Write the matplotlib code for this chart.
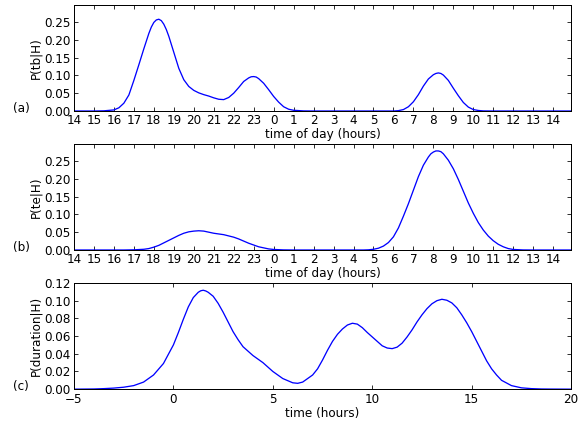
"""
Probability densities of start time, end time and duration.
"""

import matplotlib
matplotlib.use("Agg")
import matplotlib.pyplot as plt

# start time of day (hours on a continuous 14 -> 38.9 axis)
tb_hours = [14.0, 15.0, 15.5, 16.0, 16.25, 16.5, 16.75, 17.0, 17.25, 17.5, 17.75,
            17.875, 18.0, 18.125, 18.25, 18.375, 18.5, 18.625, 18.75, 19.0, 19.25,
            19.5, 19.75, 20.0, 20.25, 20.5, 20.75, 21.0, 21.25, 21.5, 21.75,
            22.0, 22.25, 22.5, 22.75, 22.875, 23.0, 23.125, 23.25, 23.5, 23.75,
            24.0, 24.25, 24.5, 24.75, 25.0, 25.5, 26.0, 30.0, 30.25, 30.5,
            30.75, 31.0, 31.25, 31.5, 31.75, 32.0, 32.125, 32.25, 32.375, 32.5,
            32.75, 33.0, 33.25, 33.5, 33.75, 34.0, 34.25, 34.5, 35.0, 38.9]
tb_density = [0.0, 0.0, 0.0005, 0.003, 0.009, 0.022, 0.045, 0.086, 0.13, 0.175, 0.218,
              0.236, 0.249, 0.256, 0.258, 0.254, 0.244, 0.229, 0.21, 0.165, 0.12,
              0.088, 0.069, 0.058, 0.051, 0.046, 0.042, 0.037, 0.033, 0.032, 0.038,
              0.05, 0.066, 0.083, 0.093, 0.0962, 0.0968, 0.0955, 0.091, 0.078, 0.06,
              0.041, 0.025, 0.012, 0.005, 0.002, 0.0003, 0.0, 0.0, 0.001, 0.004,
              0.012, 0.026, 0.046, 0.07, 0.09, 0.102, 0.1055, 0.107, 0.1055, 0.101,
              0.086, 0.064, 0.043, 0.024, 0.011, 0.004, 0.0015, 0.0003, 0.0, 0.0]

# end time of day
te_hours = [14.0, 16.5, 17.0, 17.5, 17.75, 18.0, 18.25, 18.5, 18.75, 19.0, 19.25,
            19.5, 19.75, 20.0, 20.25, 20.5, 20.75, 21.0, 21.5, 22.0, 22.25,
            22.5, 22.75, 23.0, 23.25, 23.5, 23.75, 24.0, 24.5, 25.0, 28.5,
            28.75, 29.0, 29.25, 29.5, 29.75, 30.0, 30.25, 30.5, 30.75, 31.0,
            31.25, 31.5, 31.75, 31.875, 32.0, 32.125, 32.25, 32.375, 32.5, 32.75,
            33.0, 33.25, 33.5, 33.75, 34.0, 34.25, 34.5, 34.75, 35.0, 35.25,
            35.5, 35.75, 36.0, 36.5, 37.0, 38.9]
te_density = [0.0, 0.0, 0.0005, 0.002, 0.004, 0.008, 0.013, 0.02, 0.027, 0.034, 0.041,
              0.047, 0.051, 0.053, 0.054, 0.053, 0.05, 0.047, 0.043, 0.036, 0.031,
              0.025, 0.019, 0.014, 0.009, 0.006, 0.003, 0.0015, 0.0003, 0.0, 0.0,
              0.0005, 0.002, 0.005, 0.011, 0.021, 0.037, 0.062, 0.095, 0.13, 0.168,
              0.206, 0.238, 0.261, 0.27, 0.275, 0.278, 0.278, 0.276, 0.27, 0.252,
              0.228, 0.198, 0.165, 0.132, 0.103, 0.077, 0.056, 0.039, 0.026, 0.016,
              0.009, 0.004, 0.0015, 0.0002, 0.0, 0.0]

# duration (hours)
dur_hours = [-5.0, -4.0, -3.5, -3.0, -2.5, -2.0, -1.5, -1.0, -0.5, 0.0, 0.25,
             0.5, 0.75, 1.0, 1.25, 1.375, 1.5, 1.625, 1.75, 2.0, 2.25,
             2.5, 2.75, 3.0, 3.25, 3.5, 4.0, 4.5, 5.0, 5.5, 6.0,
             6.25, 6.5, 7.0, 7.25, 7.5, 7.75, 8.0, 8.25, 8.5, 8.75,
             9.0, 9.25, 9.5, 9.75, 10.0, 10.25, 10.5, 10.75, 11.0, 11.25,
             11.5, 11.75, 12.0, 12.25, 12.5, 12.75, 13.0, 13.25, 13.5, 13.75,
             14.0, 14.25, 14.5, 14.75, 15.0, 15.25, 15.5, 15.75, 16.0, 16.25,
             16.5, 17.0, 17.5, 18.0, 18.5, 19.0, 20.0]
dur_density = [0.0, 0.0002, 0.0006, 0.0012, 0.0022, 0.004, 0.008, 0.016, 0.029, 0.05, 0.064,
               0.079, 0.093, 0.1035, 0.1095, 0.1112, 0.1118, 0.111, 0.1095, 0.105, 0.097,
               0.087, 0.076, 0.065, 0.056, 0.048, 0.038, 0.03, 0.02, 0.012, 0.0072,
               0.0066, 0.008, 0.016, 0.023, 0.033, 0.044, 0.054, 0.062, 0.068, 0.0725,
               0.0745, 0.0735, 0.0695, 0.064, 0.059, 0.054, 0.049, 0.0465, 0.0458, 0.0475,
               0.052, 0.059, 0.067, 0.076, 0.084, 0.091, 0.0965, 0.1, 0.1016, 0.1005,
               0.0975, 0.092, 0.084, 0.075, 0.065, 0.054, 0.043, 0.032, 0.023, 0.016,
               0.01, 0.004, 0.0015, 0.0006, 0.0002, 0.0001, 0.0]

day_ticks = list(range(14, 39))
day_labels = [str(h % 24) for h in day_ticks]
prob_ticks = [0.0, 0.05, 0.10, 0.15, 0.20, 0.25]
dur_xticks = [-5, 0, 5, 10, 15, 20]
dur_yticks = [0.0, 0.02, 0.04, 0.06, 0.08, 0.10, 0.12]

plt.rcParams.update({
    "font.family": "DejaVu Sans",
    "font.size": 12,
    "xtick.direction": "in",
    "ytick.direction": "in",
    "xtick.top": True,
    "ytick.right": True,
    "xtick.major.size": 4,
    "ytick.major.size": 4,
    "axes.linewidth": 1.0,
})

fig = plt.figure(figsize=(587 / 72, 423 / 72), dpi=72, facecolor="white")

left, width = 0.126, 0.847
ax_a = fig.add_axes([left, 0.7376, width, 0.2506])
ax_b = fig.add_axes([left, 0.409, width, 0.251])
ax_c = fig.add_axes([left, 0.080, width, 0.251])

for ax, x, y, ylabel in [(ax_a, tb_hours, tb_density, "P(tb|H)"),
                         (ax_b, te_hours, te_density, "P(te|H)")]:
    ax.plot(x, y, color="blue", linewidth=1.3)
    ax.set_xlim(14, 38.9)
    ax.set_ylim(0, 0.298)
    ax.set_xticks(day_ticks)
    ax.set_xticklabels(day_labels)
    ax.set_yticks(prob_ticks)
    ax.set_yticklabels([f"{v:.2f}" for v in prob_ticks])
    ax.set_xlabel("time of day (hours)", labelpad=1)
    ax.set_ylabel(ylabel, labelpad=2)

ax_c.plot(dur_hours, dur_density, color="blue", linewidth=1.3)
ax_c.set_xlim(-5, 20)
ax_c.set_ylim(0, 0.12)
ax_c.set_xticks(dur_xticks)
ax_c.set_yticks(dur_yticks)
ax_c.set_yticklabels([f"{v:.2f}" for v in dur_yticks])
ax_c.set_xlabel("time (hours)", labelpad=1)
ax_c.set_ylabel("P(duration|H)", labelpad=2)

for ax, tag in [(ax_a, "(a)"), (ax_b, "(b)"), (ax_c, "(c)")]:
    y0 = ax.get_position().y0
    fig.text(0.022, y0 + 0.006, tag, ha="left", va="center", fontsize=12)

fig.savefig("out.png", dpi=72, facecolor="white")
plt.close(fig)
